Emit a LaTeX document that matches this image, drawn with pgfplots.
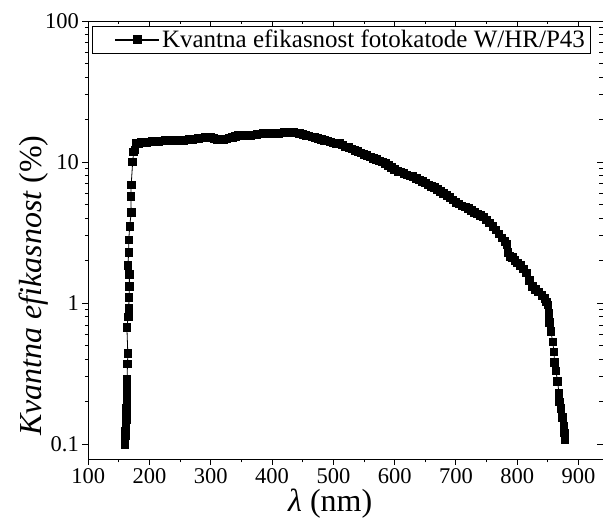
\documentclass[border=0pt]{standalone}
\usepackage{fontspec}
\setmainfont{Liberation Serif}
\usepackage{pgfplots}
\pgfplotsset{compat=1.18}
\begin{document}
\begin{tikzpicture}
\useasboundingbox (-88.3pt,-65pt) rectangle (514.7pt,459pt);
\begin{axis}[
  at={(0pt,0pt)}, anchor=south west,
  scale only axis, width=514.7pt, height=438pt,
  xmin=100, xmax=940,
  ymode=log, ymin=0.0786, ymax=100,
  xtick={100,200,...,900},
  minor x tick num=1,
  ytick={0.1,1,10,100},
  yticklabels={0.1,1,10,100},
  tick align=outside,
  major tick length=6pt, minor tick length=3.5pt,
  xtick pos=left, ytick pos=left,
  /pgf/number format/assume math mode=true,
  tick label style={font=\fontsize{22.5}{26}\selectfont},
  xlabel={{\itshape λ} (nm)},
  ylabel={{\itshape Kvantna efikasnost} (\%)},
  xlabel style={at={(axis description cs:0.47,0)}, anchor=center, yshift=-45pt, font=\fontsize{32}{36}\selectfont},
  ylabel style={at={(axis description cs:-0.107,0.396)}, anchor=center, font=\fontsize{32}{36}\selectfont},
  axis line style={line width=0.9pt},
  every tick/.style={black, line width=0.9pt},
  legend style={at={(axis description cs:0,1)}, anchor=north west, xshift=3.4pt, yshift=-5pt,
    draw=black, line width=0.6pt, font=\fontsize{25}{27}\selectfont, inner xsep=3pt, inner ysep=2pt,
    /tikz/every even column/.append style={column sep=2pt}},
  legend cell align=left,
  legend image code/.code={\path (-20pt,0pt); \draw[#1, line width=1.4pt] (0pt,0pt) -- (44pt,0pt); \draw[#1, only marks, mark size=4pt] plot coordinates {(22pt,0pt)};},
]
\addplot[black, line width=0.8pt, mark=square*, mark size=3.8pt, mark options={solid}] coordinates {
(159.5,0.100) (160,0.108) (160.5,0.116) (161,0.124) (161.5,0.135) (162,0.15) (162.3,0.165) (162.5,0.18)
(162.8,0.2) (163,0.22) (163,0.24) (163,0.26) (163.2,0.29) (164,0.37) (164.5,0.44) (163,0.67)
(165,0.8) (166,0.92) (166.5,1.1) (167,1.32) (167,1.6) (164.5,1.85) (166,2.3) (166,2.8)
(167.6,3.5) (170,4.4) (169.5,5.7) (170,6.9) (172.4,10.0) (174,11.8) (176,12.2) (178.6,13.5)
(182,13.6) (186,13.8) (190,13.9) (195,13.8) (200,13.9) (205,14.0) (210,13.9) (215,14.0)
(220,14.1) (225,14.2) (230,14.1) (235,14.2) (240,14.1) (245,14.2) (250,14.3) (255,14.3)
(260,14.4) (265,14.5) (270,14.5) (275,14.6) (280,14.7) (285,14.8) (290,14.9) (295,14.9)
(300,14.9) (305,14.7) (310,14.5) (315,14.4) (320,14.5) (325,14.6) (330,14.8) (335,15.0)
(340,15.2) (345,15.4) (350,15.5) (355,15.5) (365,15.4) (370,15.6) (375,15.7) (380,15.8)
(385,15.9) (390,15.9) (395,16.0) (400,15.9) (405,16.0) (410,16.0) (415,16.1) (420,16.2)
(425,16.2) (430,16.3) (435,16.3) (440,16.1) (445,15.9) (450,15.7) (455,15.5) (460,15.3)
(465,15.1) (470,14.9) (475,14.7) (480,14.5) (485,14.3) (490,14.1) (495,13.9) (500,13.7)
(505,13.6) (510,13.5) (515,13.2) (520,12.8) (525,12.7) (530,12.4) (535,12.1) (540,11.9)
(545,11.6) (550,11.3) (555,11.1) (560,10.9) (565,10.6) (570,10.4) (575,10.2) (580,10.0)
(585,9.8) (590,9.5) (595,9.2) (600,8.9) (605,8.6) (610,8.5) (615,8.3) (620,8.1)
(625,8.0) (630,7.9) (635,7.7) (640,7.5) (645,7.3) (650,7.1) (655,6.9) (660,6.7)
(665,6.6) (670,6.4) (675,6.2) (680,6.0) (685,5.8) (690,5.6) (695,5.4) (700,5.2)
(705,5.05) (710,4.9) (715,4.8) (720,4.7) (725,4.55) (730,4.4) (735,4.3) (740,4.2)
(745,4.1) (750,3.9) (755,3.7) (760,3.5) (765,3.3) (770,3.1) (775,2.9) (780,2.75)
(783,2.6) (785,2.3) (788,2.15) (792,2.1) (796,2.0) (800,1.93) (805,1.85) (810,1.75)
(815,1.64) (820,1.45) (825,1.32) (830,1.25) (835,1.2) (840,1.14) (845,1.08) (848,1.02)
(850,0.97) (852,0.85) (853,0.73) (855,0.63) (858,0.53) (860,0.45) (861,0.38) (863,0.33)
(866,0.28) (868,0.23) (869,0.2) (871,0.18) (874,0.155) (876,0.135) (877,0.12) (877.5,0.107)
};
\addlegendentry{Kvantna efikasnost fotokatode W/HR/P43}
\end{axis}
\begin{axis}[
  at={(0pt,0pt)}, anchor=south west,
  scale only axis, width=514.7pt, height=438pt,
  xmin=100, xmax=940,
  ymode=log, ymin=0.0786, ymax=100,
  xtick={100,200,...,900}, minor x tick num=1,
  ytick={0.1,1,10,100},
  xtick pos=right, ytick pos=right,
  tick align=inside,
  major tick length=6pt, minor tick length=3.5pt,
  xticklabels={}, yticklabels={},
  axis line style={line width=0.9pt},
  every tick/.style={black, line width=0.9pt},
]
\end{axis}
\end{tikzpicture}
\end{document}
